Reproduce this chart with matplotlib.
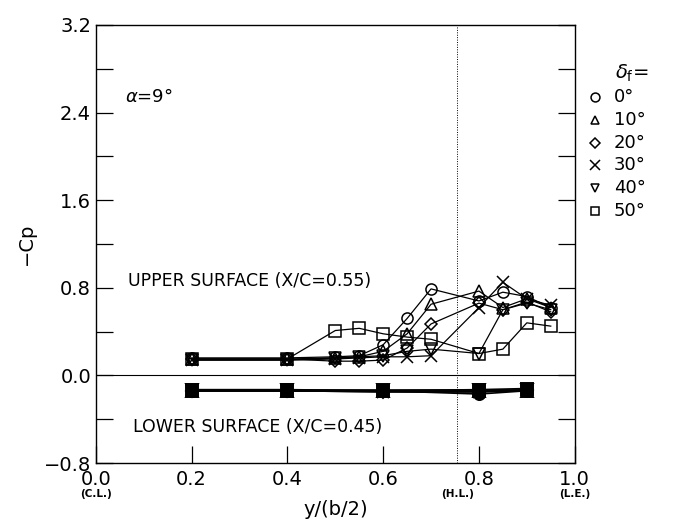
import matplotlib
matplotlib.use("Agg")
import matplotlib.pyplot as plt
from matplotlib.ticker import MultipleLocator

plt.rcParams['font.family'] = ['DejaVu Sans']

x_upper = [0.2, 0.4, 0.5, 0.55, 0.6, 0.65, 0.7, 0.8, 0.85, 0.9, 0.95]
cp_upper = {
    "0":  [0.16, 0.16, 0.17, 0.18, 0.28, 0.52, 0.79, 0.68, 0.76, 0.72, 0.62],
    "10": [0.15, 0.15, 0.16, 0.17, 0.22, 0.38, 0.65, 0.77, 0.62, 0.70, 0.62],
    "20": [0.15, 0.15, 0.13, 0.13, 0.14, 0.25, 0.47, 0.66, 0.60, 0.67, 0.58],
    "30": [0.14, 0.14, 0.15, 0.16, 0.17, 0.17, 0.18, 0.62, 0.85, 0.70, 0.64],
    "40": [0.14, 0.14, 0.16, 0.17, 0.18, 0.22, 0.24, 0.20, 0.60, 0.66, 0.60],
    "50": [0.15, 0.15, 0.41, 0.43, 0.38, 0.35, 0.33, 0.20, 0.24, 0.48, 0.45],
}
x_lower = [0.2, 0.4, 0.6, 0.8, 0.9]
cp_lower = {
    "0":  [-0.14, -0.14, -0.14, -0.17, -0.14],
    "10": [-0.14, -0.14, -0.14, -0.14, -0.14],
    "20": [-0.14, -0.14, -0.15, -0.15, -0.13],
    "30": [-0.14, -0.14, -0.15, -0.15, -0.14],
    "40": [-0.13, -0.13, -0.13, -0.13, -0.13],
    "50": [-0.13, -0.13, -0.14, -0.13, -0.12],
}
flap_labels = ["0", "10", "20", "30", "40", "50"]
markers = {"0": "o", "10": "^", "20": "D", "30": "x", "40": "v", "50": "s"}
msizes = {"0": 8, "10": 8, "20": 6.5, "30": 9, "40": 8, "50": 8}
hinge_line = 0.755

fig = plt.figure(figsize=(7.0, 5.27), dpi=100)
ax = fig.add_axes([0.137, 0.1214, 0.684, 0.8312])

for k in flap_labels:
    ax.plot(x_upper, cp_upper[k], color='black', lw=0.9, marker=markers[k],
            ms=msizes[k], mfc='none', mec='black', mew=1.1)
    ax.plot(x_lower, cp_lower[k], color='black', lw=1.2, marker=markers[k],
            ms=msizes[k], mfc='black', mec='black', mew=1.4)

ax.axhline(0, color='black', lw=0.8)
ax.axvline(hinge_line, color='black', lw=0.7, ls=(0, (1, 1.5)))

ax.set_xlim(0.0, 1.0)
ax.set_ylim(-0.8, 3.2)
ax.yaxis.set_minor_locator(MultipleLocator(0.4))
ax.tick_params(which='both', direction='in', top=False, right=True,
               labelsize=14, length=12, width=0.9)
ax.tick_params(axis='x', pad=5)
ax.set_xticks([0.0, 0.2, 0.4, 0.6, 0.8, 1.0])
ax.set_xticklabels(["0.0", "0.2", "0.4", "0.6", "0.8", "1.0"])
ax.set_yticks([-0.8, 0.0, 0.8, 1.6, 2.4, 3.2])
ax.set_yticklabels(["\u22120.8", "0.0", "0.8", "1.6", "2.4", "3.2"])
for s in ax.spines.values():
    s.set_linewidth(1.0)

ax.set_xlabel("y/(b/2)", fontsize=14, labelpad=8)
ax.set_ylabel("\u2212Cp", fontsize=14, labelpad=6)

ax.text(0.06, 2.5, r"$\alpha$=9°", fontsize=13)
ax.text(0.068, 0.82, "UPPER SURFACE (X/C=0.55)", fontsize=12.5)
ax.text(0.078, -0.52, "LOWER SURFACE (X/C=0.45)", fontsize=12.5)

for xv, lab in [(0.0, "(C.L.)"), (hinge_line, "(H.L.)"), (1.0, "(L.E.)")]:
    ax.text(xv, -1.085, lab, fontsize=7.5, fontweight='bold', ha='center',
            va='center', transform=ax.transData, clip_on=False)

# legend drawn manually in figure coords
fig.text(615 / 700, 1 - 73 / 527, r"$\delta_{\rm f}$=", fontsize=14, va='center', ha='left')
for i, k in enumerate(flap_labels):
    yy = 1 - (97 + i * 22.8) / 527
    fig.lines.append(plt.Line2D([595 / 700], [yy], marker=markers[k], ms=msizes[k] * 0.8,
                                mfc='none', mec='black', mew=1.1, color='black',
                                transform=fig.transFigure))
    fig.text(614 / 700, yy, k + "°", fontsize=13, va='center', ha='left')

fig.savefig("out.png", dpi=100)
